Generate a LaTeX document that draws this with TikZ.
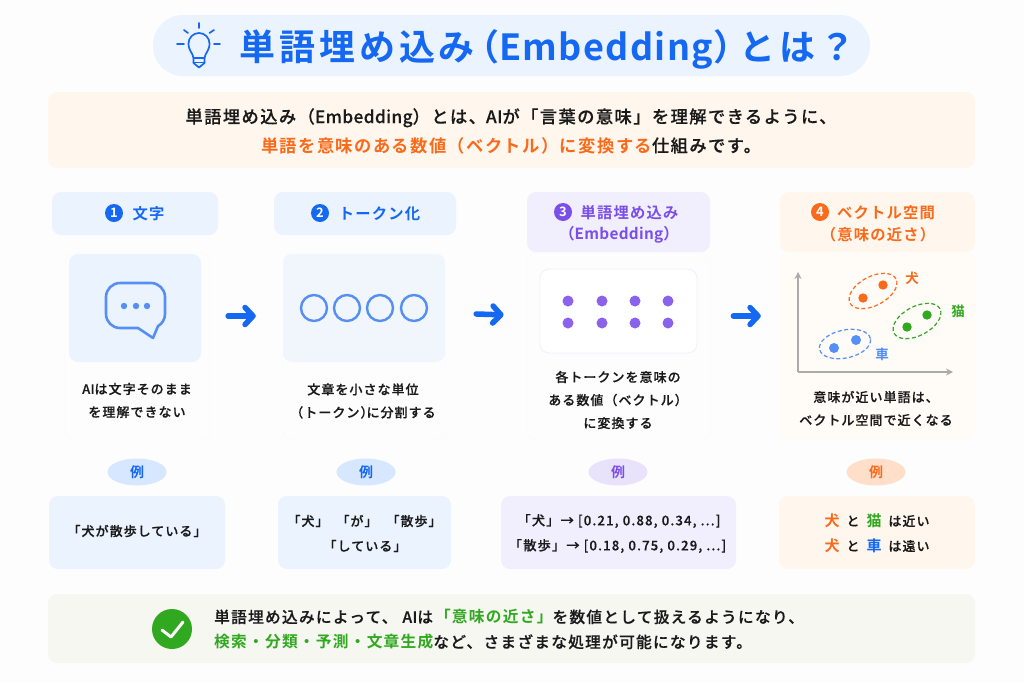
\documentclass[tikz,border=0pt]{standalone}
\usepackage{fontspec}
\usepackage{xcolor}
\setmainfont{Noto Sans CJK JP}[UprightFont=* Medium,BoldFont=* Bold,LetterSpace=8,UprightFeatures={FakeBold=0.25}]
\usetikzlibrary{arrows.meta,shapes.geometric}
\definecolor{pageback}{HTML}{FDFDFE}
\definecolor{blueback}{HTML}{EBF3FF}
\definecolor{bluepale}{HTML}{F1F5FC}
\definecolor{bluepill}{HTML}{D7E7FF}
\definecolor{blueink}{HTML}{1468F2}
\definecolor{bluesoft}{HTML}{558FF5}
\definecolor{orangeback}{HTML}{FFF7EE}
\definecolor{orangepale}{HTML}{FFFBF6}
\definecolor{orangepill}{HTML}{FFDFC9}
\definecolor{orangeink}{HTML}{F96A1B}
\definecolor{purpleback}{HTML}{F1EEFD}
\definecolor{purplepill}{HTML}{E8E3FB}
\definecolor{purpleink}{HTML}{7B4EE8}
\definecolor{purpledot}{HTML}{8B62EC}
\definecolor{greenback}{HTML}{F6F7F1}
\definecolor{greenink}{HTML}{30A820}
\definecolor{textink}{HTML}{1A1A1A}
\newcommand{\latin}[1]{{\addfontfeature{LetterSpace=2}#1}}
\tikzset{
  softbox/.style={rounded corners=9pt,draw=none},
  cardbox/.style={rounded corners=9pt,draw=#1,line width=0.6pt},
  flow/.style={line width=5.5pt,line cap=round,color=blueink,-{Straight Barb[round,length=8pt,width=17pt]}},
  numdot/.style={circle,fill=#1,text=white,inner sep=0pt,minimum size=18pt,font=\fontsize{13}{13}\bfseries},
  steptext/.style={text=#1,align=center,inner sep=0pt,font=\fontsize{15.3}{22}\bfseries},
  bodytext/.style={text=textink,align=center,inner sep=0pt,font=\fontsize{13}{23}\selectfont},
  reipill/.style={ellipse,fill=#1,minimum width=59pt,minimum height=27pt,inner sep=0pt},
  cluster/.style={ellipse,draw=#1,dashed,dash pattern=on 4pt off 2.5pt,line width=1.2pt,inner sep=0pt},
  axisline/.style={line width=2pt,color=black!33,-{Stealth[length=7pt,width=7pt]}},
}
\begin{document}
\begin{tikzpicture}[x=1pt,y=-1pt]
  \useasboundingbox (0,0) rectangle (1024,683);
  \fill[pageback] (0,0) rectangle (1024,683);
  % title
  \fill[blueback,rounded corners=30pt] (153,15) rectangle (870,76);
  \node[anchor=base west,text=blueink,inner sep=0pt,font=\fontsize{36}{36}\bfseries] (title) at (239,60.5)
    {\addfontfeature{LetterSpace=11}単語埋め込み\kern-12pt（{\addfontfeature{LetterSpace=4}Embedding}）\kern-10pt とは？};
  \begin{scope}[blueink,line width=1.7pt,line cap=round,line join=round]
    \draw (193.5,58) .. controls (193,53) and (188.5,51) .. (188.5,43.5) arc (180:360:10.5) .. controls (209.5,51) and (205,53) .. (204.5,58) -- cycle;
    \draw (193.5,58) -- (193.5,63) -- (199,67.5) -- (204.5,63) -- (204.5,58);
    \draw (193.5,62.5) -- (204.5,62.5);
    \foreach \x/\y/\u/\v in {199/23/199/28,177/44/184/44,214/44/220/44,184/30/188/33,214/30/209.5/33}
      \draw (\x,\y) -- (\u,\v);
  \end{scope}
  % intro
  \fill[orangeback,softbox] (48,92) rectangle ++(927,76);
  \node[text=textink,align=center,inner sep=0pt,font=\fontsize{17.3}{29}\selectfont] (intro) at (511,131)
    {単語埋め込み（\latin{Embedding}）とは、\latin{AI}が「言葉の意味」を理解できるように、\\
     \textcolor{orangeink}{\bfseries 単語を意味のある数値（ベクトル）に変換する}仕組みです。};
  % step heads
  \fill[blueback,softbox] (52,192) rectangle (218,235);
  \node[numdot=blueink] (num1) at (114,213) {1};
  \node[steptext=blueink] (head1) at (148.5,213.5) {文字};
  \fill[blueback,softbox] (274,192) rectangle (456,235);
  \node[numdot=blueink] (num2) at (320,213) {2};
  \node[steptext=blueink] (head2) at (379.5,213.5) {トークン化};
  \fill[purpleback,softbox] (527,192) rectangle (710,252);
  \node[numdot=purpleink] (num3) at (563,212) {3};
  \node[steptext=purpleink] (head3) at (629.5,212.5) {単語埋め込み};
  \node[steptext=purpleink] (head3b) at (619,235) {（\latin{Embedding}）};
  \fill[orangeback,softbox] (780,192) rectangle (975,252);
  \node[numdot=orangeink] (num4) at (820,212) {4};
  \node[steptext=orangeink] (head4) at (886,212.5) {ベクトル空間};
  \node[steptext=orangeink] (head4b) at (878,235) {（意味の近さ）};
  % cards
  \draw[cardbox=blueback!35] (65,253) rectangle (210,440);
  \draw[cardbox=blueback!35] (283,253) rectangle (445,440);
  \draw[cardbox=purpleback!25] (527,253) rectangle (710,440);
  \node[softbox,fill=orangepale,minimum width=195pt,minimum height=188pt,inner sep=0pt] (card4) at (877.5,346) {};
  \node[softbox,fill=blueback,minimum width=132pt,minimum height=108pt,inner sep=0pt] (img1) at (135,308) {};
  \node[softbox,fill=bluepale,minimum width=162pt,minimum height=108pt,inner sep=0pt] (img2) at (364,308) {};
  \node[softbox,fill=white,draw=purplepill!60,line width=0.8pt,minimum width=157pt,minimum height=84pt,inner sep=0pt] (img3) at (618.5,311) {};
  % speech bubble
  \draw[bluesoft,line width=2.6pt,line join=round] (120,283) -- (151,283) arc (-90:0:14) -- (165,314) arc (0:60:14) -- (153,338) -- (138,328) -- (120,328) arc (90:180:14) -- (106,297) arc (180:270:14) -- cycle;
  \foreach \x in {124,136,147}
    \fill[bluesoft] (\x,306) circle (3.2);
  % tokens
  \foreach \x in {314,347,380,414}
    \draw[bluesoft,line width=2.4pt] (\x,308) circle (13);
  % vectors
  \foreach \x in {568,602,635,668}
    \foreach \y in {301,323}
      \fill[purpledot] (\x,\y) circle (5.5);
  % flow arrows
  \draw[flow] ([yshift=-8pt]img1.east) -- ([yshift=-8pt]img2.west) [shorten <=27pt,shorten >=27pt];
  \draw[flow] ([yshift=-5pt]img2.east) -- ([yshift=-5pt]img3.west) [shorten <=31pt,shorten >=36pt];
  \draw[flow] ([yshift=-5pt]img3.east) -- ([yshift=30pt]card4.west) [shorten <=36pt,shorten >=19pt];
  % vector space
  \coordinate (origin) at (798,372);
  \coordinate (axisx) at (953,372);
  \coordinate (axisy) at (798,272);
  \draw[axisline] (origin) -- (axisx);
  \draw[axisline] (origin) -- (axisy);
  \node[cluster=orangeink,minimum width=52pt,minimum height=29pt,rotate=28] (dog) at (873,291) {};
  \node[cluster=greenink,minimum width=52pt,minimum height=29pt,rotate=28] (cat) at (917,321) {};
  \node[cluster=bluesoft,minimum width=52pt,minimum height=28pt,rotate=12] (car) at (845,344) {};
  \fill[orangeink] (883,285) circle (4.7) (863,298) circle (4.7);
  \fill[greenink] (927,315) circle (4.7) (907,327) circle (4.7);
  \fill[bluesoft] (856,340) circle (5) (834,348) circle (5);
  \node[text=orangeink,inner sep=0pt,font=\fontsize{13.5}{13.5}\bfseries] (doglabel) at (912,278) {犬};
  \node[text=greenink,inner sep=0pt,font=\fontsize{13.5}{13.5}\bfseries] (catlabel) at (958,311) {猫};
  \node[text=bluesoft,inner sep=0pt,font=\fontsize{13.5}{13.5}\bfseries] (carlabel) at (882,354) {車};
  % card texts
  \node[bodytext] (text1) at (137,400.5) {\latin{AI}は文字そのまま\\を理解できない};
  \node[bodytext] (text2) at (363,401) {文章を小さな単位\\（トークン）\kern-7pt に分割する};
  \node[bodytext] (text3) at (618,400) {各トークンを意味の\\ある数値（ベクトル）\\に変換する};
  \node[bodytext] (text4) at (876,408.5) {意味が近い単語は、\\ベクトル空間で近くなる};
  % examples
  \foreach \x/\pill/\ink [count=\i] in {137/bluepill/blueink,366/bluepill/blueink,618/purplepill/purpleink,876/orangepill/orangeink}
    \node[reipill=\pill,text=\ink,font=\fontsize{14}{14}\bfseries] (rei\i) at (\x,472) {例};
  \fill[blueback,softbox] (49,496) rectangle (225,569);
  \fill[blueback,softbox] (278,496) rectangle (451,569);
  \fill[purpleback,softbox] (501,496) rectangle (736,569);
  \fill[orangeback,softbox] (779,496) rectangle (975,569);
  \node[bodytext] (ex1) at (137,531) {「犬が散歩している」};
  \node[bodytext] (ex2a) at (308,521) {「犬」};
  \node[bodytext] (ex2b) at (357,521) {「が」};
  \node[bodytext] (ex2c) at (414,521) {「散歩」};
  \node[bodytext] (ex2d) at (365,546) {「している」};
  \node[bodytext,font=\fontsize{13.3}{23}\selectfont] (ex3a) at (619,521) {「犬」→ [0.21, 0.88, 0.34, ...]};
  \node[bodytext,font=\fontsize{13.3}{23}\selectfont] (ex3b) at (617.5,546) {「散歩」→ [0.18, 0.75, 0.29, ...]};
  \foreach \y/\c/\t [count=\i] in {521/greenink/猫,546/blueink/車}{
    \node[inner sep=0pt,text=orangeink,font=\fontsize{15}{15}\bfseries] (dogw\i) at (832,\y) {犬};
    \node[bodytext] (tow\i) at (853,\y) {と};
    \node[inner sep=0pt,text=\c,font=\fontsize{15}{15}\bfseries] (thing\i) at (874,\y) {\t};
  }
  \node[bodytext] (near) at (909,521) {は近い};
  \node[bodytext] (far) at (909,546) {は遠い};
  % summary
  \fill[greenback,softbox] (48,594) rectangle ++(927,69);
  \node[circle,fill=greenink,minimum size=40pt,inner sep=0pt] (check) at (172,629) {};
  \draw[white,line width=3pt,line cap=round,line join=round] ([shift={(-10,1)}]check.center) -- ++(9,7) -- ++(12,-15);
  \node[anchor=west,text=textink,align=left,inner sep=0pt,font=\fontsize{15.7}{25}\selectfont] (summary) at (214,629.5)
    {単語埋め込みによって、\kern5pt\latin{AI}は\kern2pt\textcolor{greenink}{\bfseries「意味の近さ」}を数値として扱えるようになり、\\
     \textcolor{greenink}{\bfseries 検索・分類・予測・文章生成}など、さまざまな処理が可能になります。};
\end{tikzpicture}
\end{document}
